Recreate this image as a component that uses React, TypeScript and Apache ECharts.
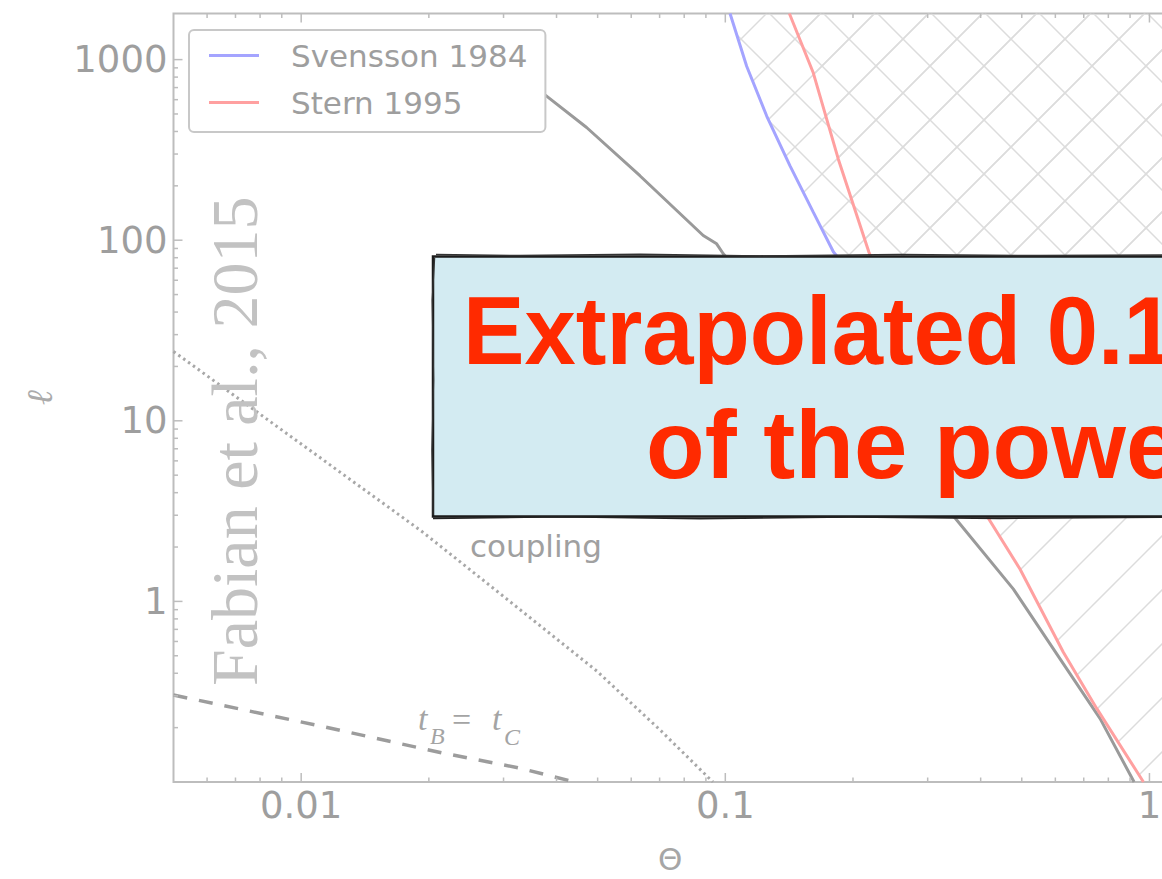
import React, { useEffect, useRef } from 'react';
import * as echarts from 'echarts';

// Axis extents (log–log plane: temperature Θ vs compactness ℓ)
const thetaMin = 0.005;
const thetaMax = 1.1;
const ellMin = 0.1;
const ellMax = 1800;

const xTickLabels = ['0.01', '0.1', '1'];
const yTickLabels = ['1', '10', '100', '1000'];
const xMajorTicks = [0.01, 0.1, 1];
const yMajorTicks = [1, 10, 100, 1000];

// Pair-balance limit, Svensson 1984
const svenssonTheta = [0.1026, 0.1123, 0.1252, 0.1421, 0.1612, 0.1799, 0.26, 0.4, 0.62, 0.85, 1.1];
const svenssonEll = [1800, 919, 487, 258, 143, 86, 30, 13, 7, 5.2, 4.2];

// Pair-balance limit, Stern 1995
const sternTheta = [0.1416, 0.1612, 0.1847, 0.218, 0.4135, 0.4955, 0.6266, 0.7515, 0.968];
const sternEll = [1800, 845, 281, 86, 2.98, 1.507, 0.523, 0.2547, 0.1];

// Grey solid boundary
const boundTheta = [0.0294, 0.0379, 0.0471, 0.0629, 0.0887, 0.0954, 0.0989, 0.345, 0.4778, 0.6155, 0.765, 0.92];
const boundEll = [1001, 628, 420.7, 227.5, 106.2, 95.5, 84.1, 2.97, 1.169, 0.4806, 0.2243, 0.1];

// Dotted electron–proton coupling line
const couplingTheta = [0.005, 0.00993, 0.01915, 0.0294, 0.0498, 0.0702, 0.0935];
const couplingEll = [24.2, 7.53, 2.465, 1.107, 0.411, 0.194, 0.1];

// Dashed t_B = t_C line
const bremTheta = [0.005, 0.01137, 0.02147, 0.03243, 0.0442];
const bremEll = [0.303, 0.2018, 0.145, 0.1199, 0.1];

const zip = (xs: number[], ys: number[]) => xs.map((x, i) => [x, ys[i]]);
const fmt = (v: number) => String(Number(v.toPrecision(6)));

const GREY_TEXT = '#9e9e9e';
const FRAME = '#bdbdbd';
const BLUE = '#a4a4ff';
const RED = '#ffa0a0';

function hatchTile(period: number, slash: number, back: number | null) {
  const c = document.createElement('canvas');
  c.width = period;
  c.height = period;
  const g = c.getContext('2d')!;
  g.strokeStyle = '#dcdcdc';
  g.lineWidth = 1.5;
  for (let k = -1; k <= 2; k++) {
    const s = slash + k * period;
    g.beginPath();
    g.moveTo(s + 6, -6);
    g.lineTo(-6, s + 6);
    g.stroke();
    if (back !== null) {
      const d = back + k * period;
      g.beginPath();
      g.moveTo(d - 6, -6);
      g.lineTo(d + period + 6, period + 6);
      g.stroke();
    }
  }
  return c;
}

function buildTicks() {
  const ticks: number[][] = [];
  const xMinor: number[] = [];
  const yMinor: number[] = [];
  for (let e = -3; e <= 3; e++) {
    for (let m = 2; m <= 9; m++) {
      const v = Number((m * Math.pow(10, e)).toPrecision(6));
      if (v > thetaMin && v < thetaMax) xMinor.push(v);
      if (v > ellMin && v < ellMax) yMinor.push(v);
    }
  }
  xMajorTicks.forEach((v) => {
    ticks.push([v, ellMin, 0, 9]);
    ticks.push([v, ellMax, 1, 9]);
  });
  xMinor.forEach((v) => {
    ticks.push([v, ellMin, 0, 4.5]);
    ticks.push([v, ellMax, 1, 4.5]);
  });
  yMajorTicks.forEach((v) => ticks.push([thetaMin, v, 2, 9]));
  yMinor.forEach((v) => ticks.push([thetaMin, v, 2, 4.5]));
  return ticks;
}

export default function App() {
  const ref = useRef<HTMLDivElement>(null);

  useEffect(() => {
    if (!ref.current) return;
    const chart = echarts.init(ref.current, null, { renderer: 'svg' });

    const crossHatch = { image: hatchTile(54, 24, 0), repeat: 'repeat' };
    const singleHatch = { image: hatchTile(54, 24, null), repeat: 'repeat' };

    const text = (
      content: string,
      x: number,
      y: number,
      style: Record<string, any>,
      extra: Record<string, any> = {}
    ) => ({
      type: 'text',
      x,
      y,
      z: 50,
      silent: true,
      ...extra,
      style: {
        text: content,
        align: 'left',
        textAlign: 'left',
        verticalAlign: 'middle',
        textVerticalAlign: 'middle',
        ...style,
      },
    });

    const mathStyle = (size: number, italic = true) => ({
      fontFamily: 'Liberation Serif',
      fontStyle: italic ? 'italic' : 'normal',
      fontSize: size,
      fill: '#a4a4a4',
    });

    const redText = {
      fontFamily: 'Liberation Sans',
      fontWeight: 'bold',
      fontSize: 96,
      fill: '#ff2a00',
    };

    chart.setOption({
      animation: false,
      backgroundColor: '#ffffff',
      grid: {
        left: 173.5,
        top: 13.5,
        width: 993.5,
        height: 772,
        show: true,
        borderColor: FRAME,
        borderWidth: 2,
        backgroundColor: 'transparent',
      },
      legend: {
        data: ['Svensson 1984', 'Stern 1995'],
        orient: 'vertical',
        left: 189,
        top: 30,
        padding: [7, 18, 11, 20],
        itemGap: 10,
        itemWidth: 50,
        itemHeight: 3,
        icon: 'rect',
        backgroundColor: '#ffffff',
        borderColor: '#c8c8c8',
        borderWidth: 2,
        borderRadius: 5,
        selectedMode: false,
        textStyle: {
          fontFamily: 'DejaVu Sans',
          fontSize: 31,
          lineHeight: 37,
          color: GREY_TEXT,
          padding: [0, 0, 0, 27],
        },
      },
      xAxis: {
        type: 'log',
        logBase: 10,
        min: thetaMin,
        max: thetaMax,
        name: 'Θ',
        nameLocation: 'middle',
        nameGap: 61,
        nameTextStyle: { fontFamily: 'DejaVu Sans', fontSize: 31, color: '#a6a6a6' },
        axisLine: { show: false },
        axisTick: { show: false },
        splitLine: { show: false },
        axisLabel: {
          fontFamily: 'DejaVu Sans',
          fontSize: 37,
          color: GREY_TEXT,
          margin: 5,
          formatter: (v: number) => (xTickLabels.includes(fmt(v)) ? fmt(v) : ''),
        },
      },
      yAxis: {
        type: 'log',
        logBase: 10,
        min: ellMin,
        max: ellMax,
        name: 'ℓ',
        nameLocation: 'middle',
        nameRotate: 90,
        nameGap: 116,
        nameTextStyle: {
          fontFamily: 'DejaVu Serif',
          fontStyle: 'italic',
          fontSize: 36,
          color: '#ababab',
        },
        axisLine: { show: false },
        axisTick: { show: false },
        splitLine: { show: false },
        axisLabel: {
          fontFamily: 'DejaVu Sans',
          fontSize: 37,
          color: GREY_TEXT,
          margin: 6,
          formatter: (v: number) => (yTickLabels.includes(fmt(v)) ? fmt(v) : ''),
        },
      },
      series: [
        {
          name: 'svensson-region',
          type: 'line',
          data: zip(svenssonTheta, svenssonEll),
          symbol: 'none',
          silent: true,
          lineStyle: { width: 0, opacity: 0 },
          areaStyle: { origin: 'end', color: crossHatch, opacity: 1 },
          z: 1,
        },
        {
          name: 'stern-region',
          type: 'line',
          data: zip(sternTheta.concat([thetaMax]), sternEll.concat([ellMin])),
          symbol: 'none',
          silent: true,
          lineStyle: { width: 0, opacity: 0 },
          areaStyle: { origin: 'end', color: singleHatch, opacity: 1 },
          z: 1,
        },
        {
          name: 'boundary',
          type: 'line',
          data: zip(boundTheta, boundEll),
          symbol: 'none',
          silent: true,
          lineStyle: { color: '#9a9a9a', width: 3 },
          z: 3,
        },
        {
          name: 'coupling',
          type: 'line',
          data: zip(couplingTheta, couplingEll),
          symbol: 'none',
          silent: true,
          lineStyle: { color: '#a8a8a8', width: 3, type: [2.5, 3.5] },
          z: 3,
        },
        {
          name: 'tB=tC',
          type: 'line',
          data: zip(bremTheta, bremEll),
          symbol: 'none',
          silent: true,
          lineStyle: { color: '#9c9c9c', width: 3.5, type: [14, 12] },
          z: 3,
        },
        {
          name: 'Svensson 1984',
          type: 'line',
          data: zip(svenssonTheta, svenssonEll),
          symbol: 'none',
          silent: true,
          color: BLUE,
          itemStyle: { color: BLUE },
          lineStyle: { color: BLUE, width: 3 },
          z: 4,
        },
        {
          name: 'Stern 1995',
          type: 'line',
          data: zip(sternTheta, sternEll),
          symbol: 'none',
          silent: true,
          color: RED,
          itemStyle: { color: RED },
          lineStyle: { color: RED, width: 3 },
          z: 4,
        },
        {
          name: 'ticks',
          type: 'custom',
          silent: true,
          clip: false,
          data: buildTicks(),
          encode: { x: 0, y: 1 },
          renderItem: (_params: any, api: any) => {
            const p = api.coord([api.value(0), api.value(1)]);
            const side = api.value(2);
            const len = api.value(3);
            let x2 = p[0];
            let y2 = p[1];
            if (side === 0) y2 -= len;
            else if (side === 1) y2 += len;
            else x2 += len;
            return {
              type: 'line',
              shape: { x1: p[0], y1: p[1], x2, y2 },
              style: { stroke: FRAME, lineWidth: 1.5 },
            };
          },
          z: 5,
        },
      ],
      graphic: [
        text('coupling', 470, 546, { fontFamily: 'DejaVu Sans', fontSize: 31, fill: '#a0a0a0' }),
        text('t', 418, 718, mathStyle(34)),
        text('B', 430, 736, mathStyle(24)),
        text('=', 452, 719, mathStyle(34, false)),
        text('t', 492, 718, mathStyle(34)),
        text('C', 504, 737, mathStyle(24)),
        text(
          'Fabian et al., 2015',
          234,
          686,
          { fontFamily: 'Liberation Serif', fontSize: 66, fill: '#c2c2c2' },
          { rotation: Math.PI / 2, z: 60 }
        ),
        {
          type: 'group',
          z: 100,
          silent: true,
          children: [
            {
              type: 'rect',
              z: 100,
              shape: { x: 433, y: 256.5, width: 780, height: 260 },
              style: { fill: '#d3ebf2', stroke: '#1c1c1c', lineWidth: 2.5 },
            },
            {
              type: 'polyline',
              z: 101,
              shape: {
                points: [[436, 254.6], [520, 255.6], [640, 254.2], [760, 255.9], [900, 254.4], [1040, 255.6], [1180, 254.9]],
              },
              style: { stroke: '#333333', lineWidth: 1.5, fill: null },
            },
            {
              type: 'polyline',
              z: 101,
              shape: {
                points: [[434.6, 258], [432.2, 300], [433.6, 380], [431.9, 450], [433.1, 515]],
              },
              style: { stroke: '#333333', lineWidth: 1.3, fill: null },
            },
            {
              type: 'polyline',
              z: 101,
              shape: {
                points: [[433, 518.4], [560, 516.8], [700, 518.6], [850, 517], [1000, 518.4], [1180, 517.2]],
              },
              style: { stroke: '#222222', lineWidth: 1.6, fill: null },
            },
            text('Extrapolated 0.1–200 keV', 463, 331, redText, { scaleX: 0.96, z: 102 }),
            text('of the power law', 646, 444, redText, { scaleX: 1.0, z: 102 }),
          ],
        },
      ],
    });

    return () => chart.dispose();
  }, []);

  return (
    <div
      style={{
        position: 'fixed',
        left: 0,
        top: 0,
        width: 1162,
        height: 879,
        overflow: 'hidden',
        background: '#ffffff',
      }}
    >
      <div ref={ref} style={{ width: 1240, height: 879 }} />
    </div>
  );
}
